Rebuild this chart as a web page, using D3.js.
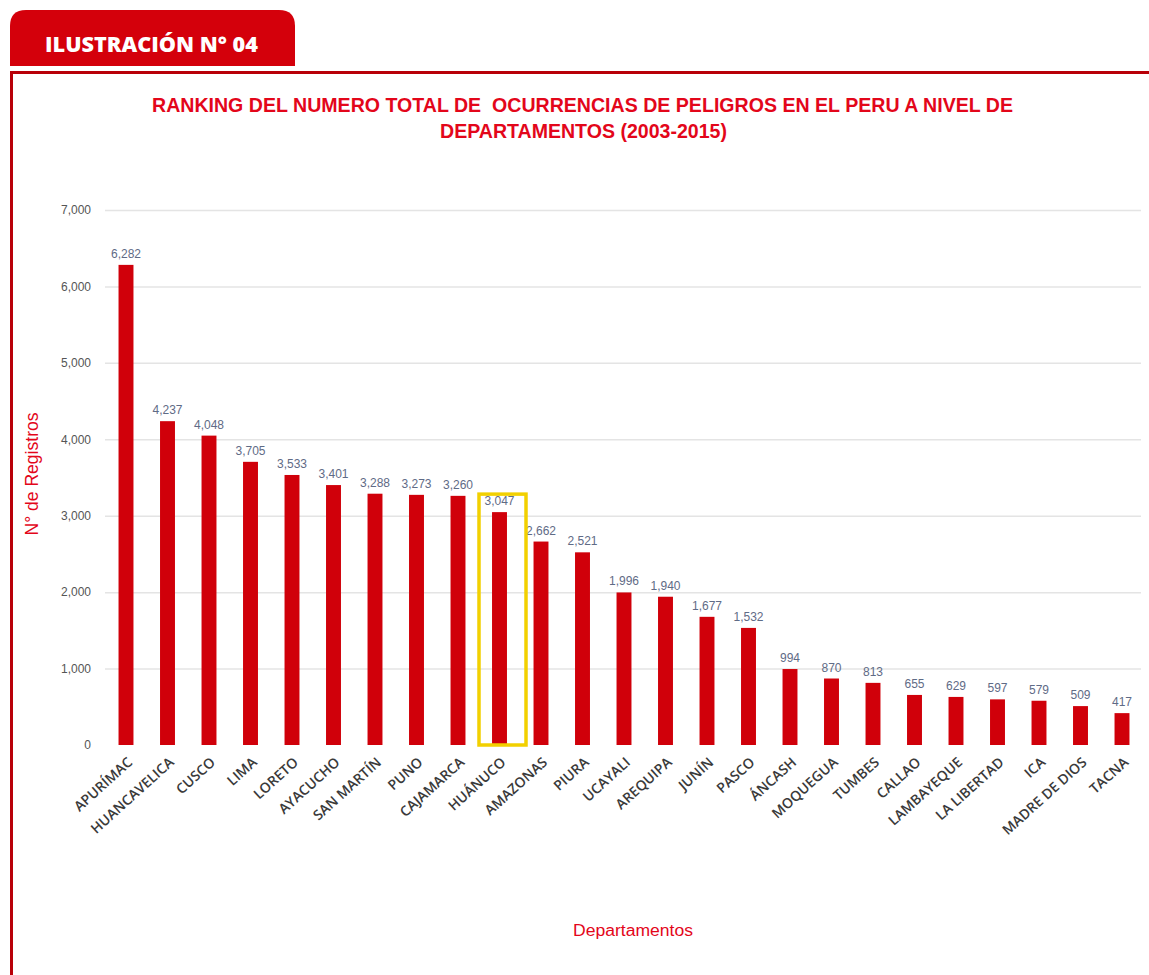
<!DOCTYPE html>
<html>
<head>
<meta charset="utf-8">
<script src="https://cdn.jsdelivr.net/npm/d3@7"></script>
<style>
  html, body { margin: 0; padding: 0; background: #fff; }
  svg { display: block; }
</style>
</head>
<body>
<script>
// Departments ranked by total hazard occurrences, 2003-2015
const departamentos = [
  "APURÍMAC", "HUANCAVELICA", "CUSCO", "LIMA", "LORETO", "AYACUCHO",
  "SAN MARTÍN", "PUNO", "CAJAMARCA", "HUÁNUCO", "AMAZONAS", "PIURA",
  "UCAYALI", "AREQUIPA", "JUNÍN", "PASCO", "ÁNCASH", "MOQUEGUA",
  "TUMBES", "CALLAO", "LAMBAYEQUE", "LA LIBERTAD", "ICA", "MADRE DE DIOS", "TACNA"
];
const registros = [
  6282, 4237, 4048, 3705, 3533, 3401, 3288, 3273, 3260, 3047, 2662, 2521,
  1996, 1940, 1677, 1532, 994, 870, 813, 655, 629, 597, 579, 509, 417
];
const yTicks = [0, 1000, 2000, 3000, 4000, 5000, 6000, 7000];
const destacado = "HUÁNUCO";

const W = 1149, H = 975;
const RED = "#d4000b";
const svg = d3.select("body").append("svg").attr("width", W).attr("height", H);

// Header tab and frame
svg.append("path")
  .attr("d", "M10,66 L10,26 Q10,10 26,10 L279,10 Q295,10 295,26 L295,66 Z")
  .attr("fill", RED);
svg.append("text")
  .attr("x", 45).attr("y", 52)
  .attr("fill", "#fff")
  .attr("font-family", "'Open Sans', sans-serif")
  .attr("font-weight", 800)
  .attr("font-size", 21)
  .attr("textLength", 213)
  .attr("lengthAdjust", "spacingAndGlyphs")
  .text("ILUSTRACIÓN N° 04");
svg.append("line").attr("x1", 10).attr("x2", W).attr("y1", 72.5).attr("y2", 72.5)
  .attr("stroke", "#b80008").attr("stroke-width", 3);
svg.append("line").attr("x1", 11.5).attr("x2", 11.5).attr("y1", 71).attr("y2", H)
  .attr("stroke", "#b80008").attr("stroke-width", 3);

// Title (condensed bold)
const titleFont = "'Liberation Sans', Arial, sans-serif";
svg.append("text")
  .attr("x", 152).attr("y", 112)
  .attr("fill", "#e3061a")
  .attr("font-family", titleFont)
  .attr("font-weight", "bold")
  .attr("font-size", 21)
  .attr("textLength", 861)
  .attr("lengthAdjust", "spacingAndGlyphs")
  .attr("xml:space", "preserve")
  .text("RANKING DEL NUMERO TOTAL DE  OCURRENCIAS DE PELIGROS EN EL PERU A NIVEL DE");
svg.append("text")
  .attr("x", 440).attr("y", 138)
  .attr("fill", "#e3061a")
  .attr("font-family", titleFont)
  .attr("font-weight", "bold")
  .attr("font-size", 21)
  .attr("textLength", 287)
  .attr("lengthAdjust", "spacingAndGlyphs")
  .text("DEPARTAMENTOS (2003-2015)");

// Scales
const x = d3.scaleBand()
  .domain(departamentos)
  .range([105.25, 1142.75])
  .paddingInner(0.64)
  .paddingOuter(0.32);
const y = d3.scaleLinear().domain([0, 7000]).range([745, 210]);

// Gridlines
svg.append("g")
  .selectAll("line")
  .data(yTicks.filter(t => t > 0))
  .join("line")
  .attr("x1", 105).attr("x2", 1141)
  .attr("y1", d => y(d) + 0.5).attr("y2", d => y(d) + 0.5)
  .attr("stroke", "#e4e4e4").attr("stroke-width", 1.5);

// Y axis
const yAxis = svg.append("g")
  .attr("transform", "translate(91,0)")
  .call(d3.axisLeft(y).tickValues(yTicks).tickFormat(d3.format(",")).tickSize(0).tickPadding(0));
yAxis.select(".domain").remove();
yAxis.selectAll("text")
  .attr("fill", "#555")
  .attr("font-family", "'Liberation Sans', Arial, sans-serif")
  .attr("font-size", 12);

svg.append("text")
  .attr("transform", "translate(38,474) rotate(-90)")
  .attr("text-anchor", "middle")
  .attr("fill", "#e3061a")
  .attr("font-family", "'Liberation Sans', Arial, sans-serif")
  .attr("font-size", 18)
  .attr("textLength", 123)
  .attr("lengthAdjust", "spacingAndGlyphs")
  .text("N° de Registros");

// Bars
svg.append("g")
  .selectAll("rect")
  .data(departamentos)
  .join("rect")
  .attr("x", d => x(d))
  .attr("width", x.bandwidth())
  .attr("y", (d, i) => y(registros[i]))
  .attr("height", (d, i) => y(0) - y(registros[i]))
  .attr("fill", "#d0000a");

// Value labels
svg.append("g")
  .selectAll("text")
  .data(departamentos)
  .join("text")
  .attr("x", d => x(d) + x.bandwidth() / 2)
  .attr("y", (d, i) => y(registros[i]) - 7)
  .attr("text-anchor", "middle")
  .attr("fill", "#5f6b86")
  .attr("font-family", "'Liberation Sans', Arial, sans-serif")
  .attr("font-size", 12)
  .text((d, i) => d3.format(",")(registros[i]));

// Category labels
const xAxis = svg.append("g")
  .attr("transform", "translate(0,748)")
  .call(d3.axisBottom(x).tickSize(0).tickPadding(0));
xAxis.select(".domain").remove();
xAxis.selectAll("text")
  .attr("text-anchor", "end")
  .attr("y", 0)
  .attr("dy", "0.35em")
  .attr("transform", "translate(4,12) rotate(-42)")
  .attr("fill", "#3a3a3a")
  .attr("font-family", "'Open Sans', sans-serif")
  .attr("font-weight", 600)
  .attr("font-size", 14);

// Highlight box
const hi = departamentos.indexOf(destacado);
const cx = x(destacado) + x.bandwidth() / 2;
svg.append("rect")
  .attr("x", cx - 20.5).attr("width", 47)
  .attr("y", y(registros[hi]) - 18).attr("height", y(0) - y(registros[hi]) + 18)
  .attr("fill", "none")
  .attr("stroke", "#f2d000")
  .attr("stroke-width", 3.5);

// X axis title
svg.append("text")
  .attr("x", 633).attr("y", 936)
  .attr("text-anchor", "middle")
  .attr("fill", "#e3061a")
  .attr("font-family", "'Liberation Sans', Arial, sans-serif")
  .attr("font-size", 16)
  .attr("textLength", 120)
  .attr("lengthAdjust", "spacingAndGlyphs")
  .text("Departamentos");
</script>
</body>
</html>
